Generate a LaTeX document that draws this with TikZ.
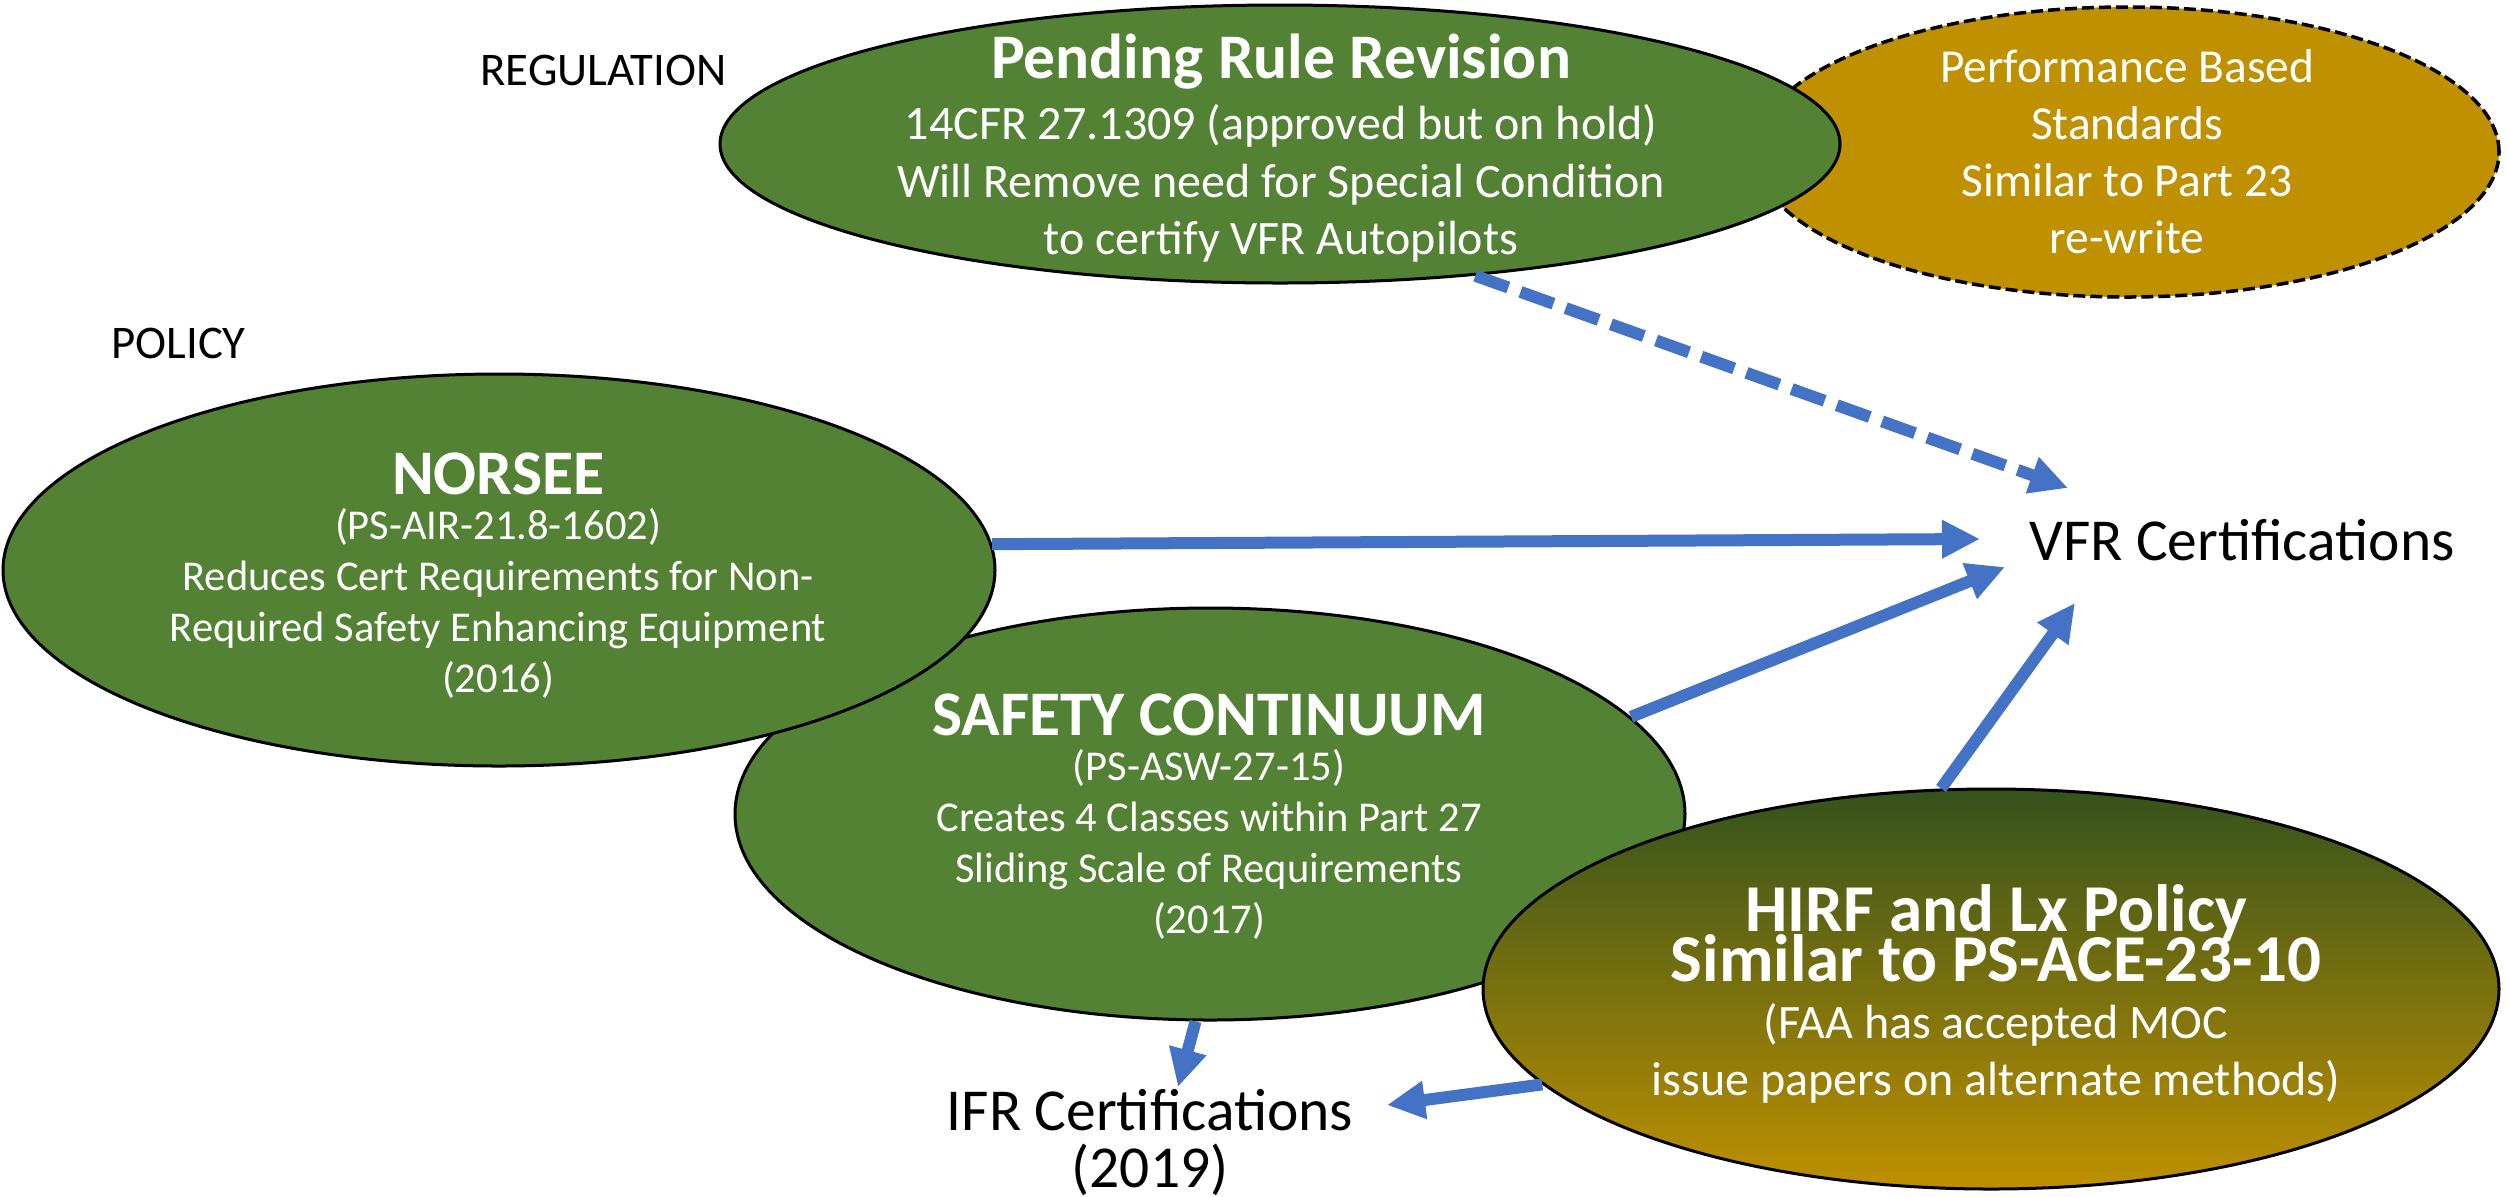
\documentclass[tikz,border=0pt]{standalone}
\usepackage{fontspec}
\setmainfont{Carlito}
\usetikzlibrary{arrows.meta,shapes.geometric}

\definecolor{leaf}{HTML}{548235}
\definecolor{ochre}{HTML}{BF9000}
\definecolor{darkleaf}{HTML}{34521D}
\definecolor{arrowblue}{HTML}{4472C4}

% font helpers
\newcommand{\bubbletitle}{\fontsize{31.75}{38}\selectfont\bfseries}
\newcommand{\hirftitle}{\fontsize{33.5}{40}\selectfont\bfseries}
\newcommand{\firstline}{\rule{0pt}{30pt}}

\begin{document}
% keep baselines fixed even where large glyphs nearly touch
\lineskiplimit=-100pt
\begin{tikzpicture}[x=0.5pt, y=-0.5pt,
  bubble/.style={ellipse, draw=black, line width=1.5pt, inner sep=0pt},
  intext/.style={text=white, align=center, inner sep=0pt, anchor=north},
  outtext/.style={text=black, inner sep=0pt},
  flow/.style={draw=arrowblue, line width=6pt, -{Triangle[length=19pt,width=18pt]}},
  pending flow/.style={flow, dash pattern=on 17.5pt off 6.5pt}]

\useasboundingbox (0,0) rectangle (2509,1196);

% ---- ellipses (back to front)
\node[bubble, fill=ochre, line width=1.75pt, dash pattern=on 6pt off 2.5pt,
      minimum width=372pt, minimum height=145pt] (perf) at (2127,152) {};
\node[bubble, fill=leaf, minimum width=560pt, minimum height=139pt] (pending) at (1280,144) {};
\node[bubble, fill=leaf, minimum width=475pt, minimum height=206pt] (safety) at (1210,814) {};
\node[bubble, fill=leaf, minimum width=496pt, minimum height=196pt] (norsee) at (499,570) {};
\node[bubble, top color=darkleaf, bottom color=ochre,
      minimum width=508pt, minimum height=200pt] (hirf) at (1991,989) {};

% ---- texts inside the ellipses
\node[intext, font=\fontsize{24}{28.75}\selectfont] (pendingtxt) at (1281,18)
  {\firstline{\bubbletitle Pending Rule Revision}\\[2pt]
   14CFR 27.1309 (approved but on hold)\\
   Will Remove need for Special Condition\\
   to certify VFR Autopilots};

\node[intext, font=\fontsize{23.7}{28.5}\selectfont] (perftxt) at (2127,22)
  {\firstline Performance Based\\ Standards\\ Similar to Part 23\\ re-write};

\node[intext, font=\fontsize{21.25}{25.5}\selectfont] (norseetxt) at (498,434)
  {\firstline{\bubbletitle NORSEE}\\[-3pt]
   (PS-AIR-21.8-1602)\\
   Reduces Cert Requirements for Non-\\
   Required Safety Enhancing Equipment\\
   (2016)};

\node[intext, font=\fontsize{21.25}{25.5}\selectfont] (safetytxt) at (1209,675)
  {\firstline{\bubbletitle SAFETY CONTINUUM}\\[-3pt]
   (PS-ASW-27-15)\\
   Creates 4 Classes within Part 27\\
   Sliding Scale of Requirements\\
   (2017)};

\node[intext, font=\fontsize{24}{28.5}\selectfont] (hirftxt) at (1996,871)
  {\firstline{\hirftitle HIRF and Lx Policy}\\[-3.5pt]
   {\hirftitle Similar to PS-ACE-23-10}\\
   (FAA has accepted MOC\\
   issue papers on alternate methods)};

% ---- free labels
\node[outtext, anchor=base west, font=\fontsize{23.4}{28}\selectfont] (reglabel) at (480,85) {REGULATION};
\node[outtext, anchor=base west, font=\fontsize{23.4}{28}\selectfont] (polabel) at (111,358) {POLICY};
\node[outtext, anchor=base west, font=\fontsize{29.75}{36}\selectfont] (vfr) at (2029,560) {VFR Certifications};
\node[outtext, anchor=north, align=center, font=\fontsize{29.75}{28.5}\selectfont] (ifr) at (1150,1070)
  {\firstline IFR Certifications\\ (2019)};

% ---- arrow targets
\coordinate (vfrA) at (2068,488);
\coordinate (vfrB) at (1980,539);
\coordinate (vfrC) at (2005,567);
\coordinate (vfrD) at (2075,603);
\coordinate (ifrA) at (1178,1087);
\coordinate (ifrB) at (1387,1105);

% ---- connectors
\draw[pending flow] (pending.-34) -- (vfrA);
\draw[flow] (norsee.3.6) -- (vfrB);
\draw[flow] (safety.13.4) -- (vfrC);
\draw[flow] (hirf.104.6) -- (vfrD);
\draw[flow] (safety.-94.7) -- (ifrA);
\draw[flow] (hirf.-168.5) -- (ifrB);

\end{tikzpicture}
\end{document}
